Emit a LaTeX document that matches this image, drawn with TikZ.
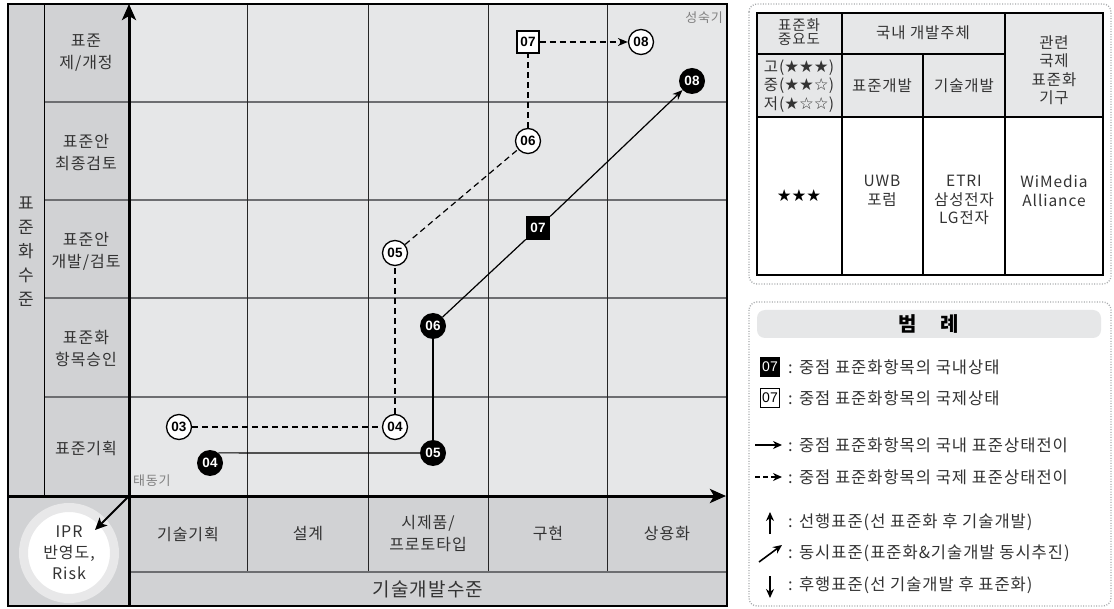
\documentclass[tikz,border=0pt]{standalone}
\usepackage{fontspec}
\setmainfont{Noto Sans CJK KR}[LetterSpace=6]
\newfontfamily\numfont{Liberation Sans}
\newfontfamily\starf{DejaVu Sans}
\usetikzlibrary{arrows.meta}
\definecolor{lgray}{HTML}{E6E7E8}
\definecolor{dgray}{HTML}{D1D2D4}
\definecolor{gline}{HTML}{6D6E71}
\definecolor{txt}{HTML}{333333}
\definecolor{ring}{HTML}{E8E8E9}
\definecolor{dotc}{HTML}{A7A9AC}
\newcommand{\bst}{{\starf\fontsize{16.5}{16.5}\selectfont ★}}
\newcommand{\wst}{{\starf\fontsize{16.5}{16.5}\selectfont ☆}}
\tikzset{
  lab/.style={text=txt, align=center, inner sep=0pt, font=\fontsize{16}{22}\selectfont},
  tab/.style={text=txt, align=center, inner sep=0pt, font=\fontsize{15.5}{18.5}\selectfont},
  leg/.style={text=txt, anchor=west, inner sep=0pt, font=\fontsize{16.5}{18}\selectfont},
  numf/.style={font=\numfont\bfseries\fontsize{13.5}{13.5}\selectfont},
  wcirc/.style={circle, draw=black, line width=1.3pt, fill=white, minimum size=25pt, inner sep=0pt, numf},
  bcirc/.style={circle, fill=black, text=white, minimum size=26pt, inner sep=0pt, numf},
  wsq/.style={rectangle, draw=black, line width=1.3pt, fill=white, minimum size=22pt, inner sep=0pt, numf},
  bsq/.style={rectangle, fill=black, text=white, minimum size=24pt, inner sep=0pt, numf},
  conn/.style={line width=1.2pt, black},
  dconn/.style={conn, dash pattern=on 6pt off 4pt},
  tipp/.style={-{Stealth[length=10pt,width=8pt]}},
  gridl/.style={draw=gline, line width=1.2pt},
  dotbox/.style={draw=dotc, line width=1.3pt, dash pattern=on 1pt off 1.6pt, rounded corners=8pt},
}
\begin{document}
\begin{tikzpicture}[x=1pt,y=-1pt]
\useasboundingbox (0,0) rectangle (1114,609);
\fill[white] (0,0) rectangle (1114,609);
% ---------- main chart backgrounds
\fill[dgray] (8,4) rectangle (727,606);
\fill[lgray] (129,4) rectangle (727,496);
% grid lines
\foreach \yy in {102,200,298,397} \draw[gridl] (44,\yy) -- (727,\yy);
\foreach \xx in {247,368,488,607} \draw[draw=gray!30!black, line width=1pt] (\xx,4) -- (\xx,572);
\draw[draw=black, line width=1pt] (44,4) -- (44,496);
\draw[draw=gline, line width=1.2pt] (129,572) -- (727,572);
\draw[line width=1.2pt, black] (8,4) rectangle (727,606);
% IPR circle
\node[circle, fill=white, draw=ring, line width=9pt, minimum size=91pt, inner sep=0pt,
      text=txt, align=center, font=\fontsize{16}{21}\selectfont] (ipr) at (69,553) {IPR\\반영도,\\Risk};
% axes
\coordinate (orig) at (129,496);
\coordinate (ytop) at (129,4);
\coordinate (ybot) at (129,606);
\coordinate (xleft) at (8,496);
\coordinate (xright) at (726,496);
\coordinate (iprtip) at (95,530);
\draw[line width=3pt, -{Stealth[length=16pt,width=14pt,inset=4pt]}] (ybot) -- (ytop);
\draw[line width=3pt, -{Stealth[length=16pt,width=14pt,inset=4pt]}] (xleft) -- (xright);
\draw[line width=2pt, -{Stealth[length=12pt,width=11pt,inset=3pt]}] (orig) -- (iprtip);
% vertical title
\node[text=txt, align=center, inner sep=0pt, font=\fontsize{17}{24}\selectfont] (ytitle) at (26,252) {표\\준\\화\\수\\준};
% row labels
\node[lab] (r1) at (86,53) {표준\\제/개정};
\node[lab] (r2) at (86,153) {표준안\\최종검토};
\node[lab] (r3) at (86,251) {표준안\\개발/검토};
\node[lab] (r4) at (86,349) {표준화\\항목승인};
\node[lab] (r5) at (86,448) {표준기획};
% column labels
\node[lab] (c1) at (188,534) {기술기획};
\node[lab] (c2) at (308,534) {설계};
\node[lab] (c3) at (428,534) {시제품/\\프로토타입};
\node[lab] (c4) at (548,534) {구현};
\node[lab] (c5) at (667,534) {상용화};
\node[text=txt, inner sep=0pt, font=\fontsize{19}{20}\selectfont] (xtitle) at (428,589) {기술개발수준};
\node[text=gray, anchor=west, inner sep=0pt, font=\fontsize{13}{14}\selectfont] (early) at (133,481) {태동기};
\node[text=gray, anchor=east, inner sep=0pt, font=\fontsize{13}{14}\selectfont] (mature) at (723,18) {성숙기};
% nodes
\node[wcirc] (w03) at (179,427) {03};
\node[wcirc] (w04) at (395,427) {04};
\node[wcirc] (w05) at (395,253) {05};
\node[wcirc] (w06) at (528,141) {06};
\node[wsq]   (s07) at (528,42) {07};
\node[wcirc] (w08) at (641,42) {08};
\node[bcirc] (b04) at (210,463) {04};
\node[bcirc] (b05) at (433,453) {05};
\node[bcirc] (b06) at (433,326) {06};
\node[bsq]   (b07) at (538,228) {07};
\node[bcirc] (b08) at (692,81) {08};
% connectors
\draw[dconn] (w03) -- (w04);
\draw[dconn] (w04) -- (w05);
\draw[dconn] (w05) -- (w06);
\draw[dconn] (w06) -- (s07);
\draw[dconn, tipp] (s07) -- (w08);
\draw[conn] (b04.50) -- (b05.west);
\draw[conn] (b05) -- (b06);
\draw[conn] (b06) -- (b07);
\draw[conn, tipp] (b07) -- (b08);
% ---------- top-right table
\draw[dotbox] (749,4) rectangle (1111,284);
\fill[lgray] (757,13) rectangle (1103,117);
\draw[line width=1.3pt] (757,13) rectangle (1103,275);
\draw[line width=1.2pt] (757,117) -- (1103,117);
\draw[line width=1.2pt] (757,54) -- (1005,54);
\draw[line width=1.2pt] (842,13) -- (842,275);
\draw[line width=1.2pt] (923,54) -- (923,275);
\draw[line width=1.2pt] (1005,13) -- (1005,275);
\node[text=txt, align=center, inner sep=0pt, font=\fontsize{14.5}{14.5}\selectfont] (t11) at (799,32) {표준화\\중요도};
\node[tab] (t12) at (923,33) {국내 개발주체};
\node[tab] (t14) at (1054,70) {관련\\국제\\표준화\\기구};
\node[tab] (t21) at (799,86) {고(\bst\bst\bst)\\중(\bst\bst\wst)\\저(\bst\wst\wst)};
\node[tab] (t22) at (882,86) {표준개발};
\node[tab] (t23) at (964,86) {기술개발};
\node[tab, text=black] (u1) at (799,196) {\bst\bst\bst};
\node[tab] (u2) at (882,191) {UWB\\포럼};
\node[tab] (u3) at (964,200) {ETRI\\삼성전자\\LG전자};
\node[tab] (u4) at (1054,191) {WiMedia\\Alliance};
% ---------- legend
\draw[dotbox] (749,302) rectangle (1111,606);
\fill[lgray, rounded corners=8pt] (757,310) rectangle (1101,338);
\node[text=black, inner sep=0pt, font=\bfseries\fontsize{20}{20}\selectfont] (legt) at (929,324) {범\hspace{1.2em}례};
\node[rectangle, fill=black, text=white, minimum size=20pt, inner sep=0pt, font=\numfont\fontsize{14}{14}\selectfont] (lg1) at (770,367) {07};
\node[rectangle, draw=black, line width=0.9pt, fill=white, minimum size=19pt, inner sep=0pt, font=\numfont\fontsize{14}{14}\selectfont] (lg2) at (770,398) {07};
\node[leg] (lt1) at (788,367) {: 중점 표준화항목의 국내상태};
\node[leg] (lt2) at (788,398) {: 중점 표준화항목의 국제상태};
\coordinate (a1s) at (755,445); \coordinate (a1e) at (782,445);
\coordinate (a2s) at (755,477); \coordinate (a2e) at (782,477);
\coordinate (a3s) at (770,534); \coordinate (a3e) at (770,512);
\coordinate (a4s) at (759,562); \coordinate (a4e) at (782,545);
\coordinate (a5s) at (770,576); \coordinate (a5e) at (770,598);
\draw[line width=1.6pt, -{Stealth[length=9pt,width=8pt]}] (a1s) -- (a1e);
\draw[line width=1.6pt, dash pattern=on 5pt off 3pt, -{Stealth[length=9pt,width=8pt]}] (a2s) -- (a2e);
\draw[line width=1.6pt, -{Stealth[length=9pt,width=8pt]}] (a3s) -- (a3e);
\draw[line width=1.6pt, -{Stealth[length=9pt,width=8pt]}] (a4s) -- (a4e);
\draw[line width=1.6pt, -{Stealth[length=9pt,width=8pt]}] (a5s) -- (a5e);
\node[leg] (lt3) at (788,445) {: 중점 표준화항목의 국내 표준상태전이};
\node[leg] (lt4) at (788,477) {: 중점 표준화항목의 국제 표준상태전이};
\node[leg] (lt5) at (788,522) {: 선행표준(선 표준화 후 기술개발)};
\node[leg] (lt6) at (788,553) {: 동시표준(표준화\&기술개발 동시추진)};
\node[leg] (lt7) at (788,585) {: 후행표준(선 기술개발 후 표준화)};
\end{tikzpicture}
\end{document}
